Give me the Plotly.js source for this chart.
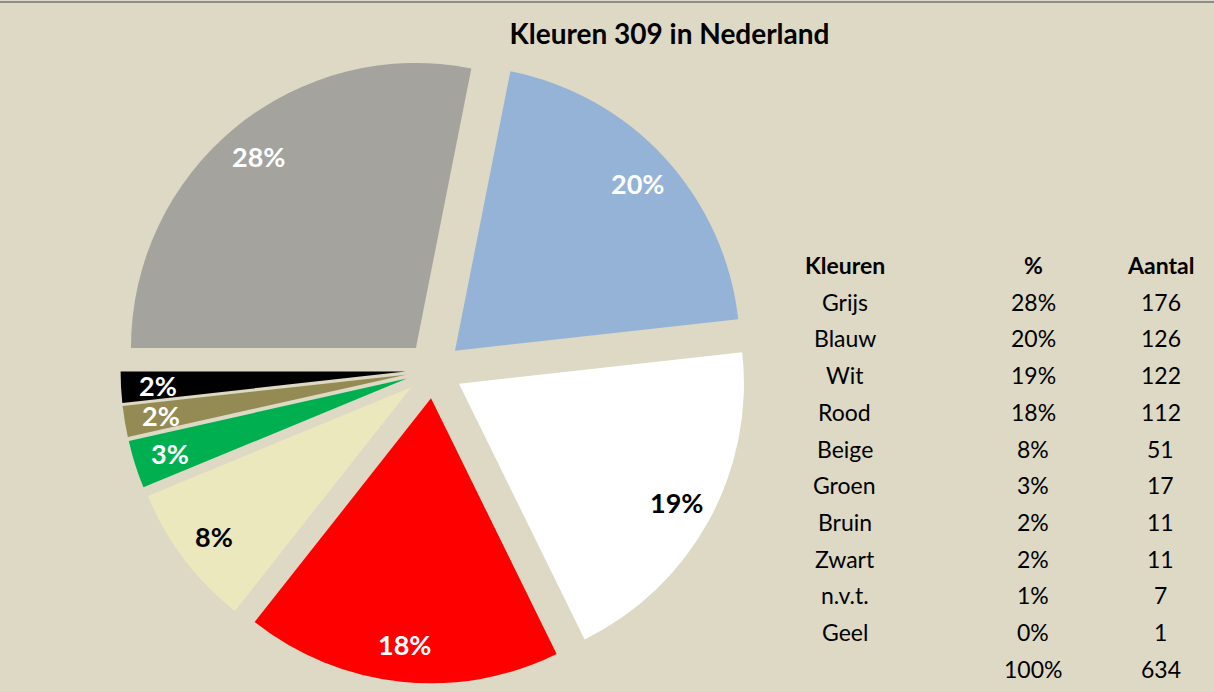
<!DOCTYPE html>
<html>
<head>
<meta charset="utf-8">
<script src="https://cdn.plot.ly/plotly-3.0.1.min.js"></script>
<style>html,body{margin:0;padding:0;background:#DDD9C4;}#chart{width:1214px;height:692px;}</style>
</head>
<body>
<div id="chart"></div>
<script>
// Table data (all categories)
const categories = ['Grijs','Blauw','Wit','Rood','Beige','Groen','Bruin','Zwart','n.v.t.','Geel'];
const percentLabels = ['28%','20%','19%','18%','8%','3%','2%','2%','1%','0%'];
const counts = [176,126,122,112,51,17,11,11,7,1];
const totalPercent = '100%';
const totalCount = 634;

// Pie shows the first eight categories
const pieCategories = categories.slice(0, 8);
const pieValues = counts.slice(0, 8);
const sliceColors = ['#A5A39E','#95B3D7','#FFFFFF','#FF0000','#EBE8BE','#00B050','#948A54','#000000'];
const sliceTextColors = ['#FFFFFF','#FFFFFF','#000000','#FFFFFF','#000000','#FFFFFF','#FFFFFF','#FFFFFF'];

const FONT = 'Lato, "Open Sans", sans-serif';
const W = 1214, H = 692;
const PULL = 0.1;
const ROTATION = 270;
const DOMAIN = {x: [0.0993, 0.6157], y: [0.0123, 0.9184]};

const pie = {
  type: 'pie',
  labels: pieCategories,
  values: pieValues,
  sort: false,
  direction: 'clockwise',
  rotation: ROTATION,
  pull: PULL,
  marker: {colors: sliceColors, line: {width: 0}},
  textinfo: 'none',
  hoverinfo: 'label+value+percent',
  showlegend: false,
  domain: DOMAIN
};

const annotations = [];

// Data labels placed near the outer end of each slice (like Excel "inside end"),
// positions derived from the slice values and the pie geometry.
(function () {
  const dw = (DOMAIN.x[1] - DOMAIN.x[0]) * W, dh = (DOMAIN.y[1] - DOMAIN.y[0]) * H;
  const cx = (DOMAIN.x[0] + DOMAIN.x[1]) / 2 * W;
  const cy = (1 - (DOMAIN.y[0] + DOMAIN.y[1]) / 2) * H;
  const r = Math.min(dw, dh) / (2 * (1 + PULL));
  const total = pieValues.reduce((a, b) => a + b, 0);
  let start = ROTATION;
  pieValues.forEach((v, i) => {
    const span = v / total * 360;
    const mid = (start + span / 2) * Math.PI / 180;
    start += span;
    const dist = r * (PULL + 0.87);
    const px = cx + dist * Math.sin(mid);
    const py = cy - dist * Math.cos(mid);
    annotations.push({
      xref: 'paper', yref: 'paper', x: px / W, y: 1 - py / H,
      text: '<b>' + Math.round(v / total * 100) + '%</b>',
      showarrow: false, xanchor: 'center', yanchor: 'middle',
      font: {family: FONT, size: 27, color: sliceTextColors[i]}
    });
  });
})();

// Table as annotations
const colX = [0.696, 0.851, 0.956];
const headerY = 1 - 265/H;
const rowStep = 36.7/H;
const headers = ['Kleuren','%','Aantal'];
const TABLE_SIZE = 23;
headers.forEach((h, i) => annotations.push({
  xref:'paper', yref:'paper', x: colX[i], y: headerY, text: '<b>'+h+'</b>',
  showarrow:false, xanchor:'center', yanchor:'middle',
  font:{family: FONT, size: TABLE_SIZE, color:'#000000'}
}));
categories.forEach((c, r) => {
  const y = headerY - (r+1)*rowStep;
  [c, percentLabels[r], String(counts[r])].forEach((t, i) => annotations.push({
    xref:'paper', yref:'paper', x: colX[i], y: y, text: t,
    showarrow:false, xanchor:'center', yanchor:'middle',
    font:{family: FONT, size: TABLE_SIZE, color:'#000000'}
  }));
});
const totalY = headerY - (categories.length+1)*rowStep;
[totalPercent, String(totalCount)].forEach((t, i) => annotations.push({
  xref:'paper', yref:'paper', x: colX[i+1], y: totalY, text: t,
  showarrow:false, xanchor:'center', yanchor:'middle',
  font:{family: FONT, size: TABLE_SIZE, color:'#000000'}
}));

const layout = {
  width: W, height: H,
  margin: {l:0, r:0, t:0, b:0},
  paper_bgcolor: '#DDD9C4',
  plot_bgcolor: '#DDD9C4',
  title: {text: '<b>Kleuren 309 in Nederland</b>', x: 0.5515, xanchor:'center', y: 1 - 34/H, yanchor:'middle',
          font: {family: FONT, size: 28, color: '#000000'}},
  annotations: annotations,
  shapes: [{type:'line', xref:'paper', yref:'paper', x0:0, x1:1, y0:1-2/H, y1:1-2/H, line:{color:'#8C8C8C', width:2}}]
};

Plotly.newPlot('chart', [pie], layout, {displayModeBar:false, staticPlot:true});
</script>
</body>
</html>
